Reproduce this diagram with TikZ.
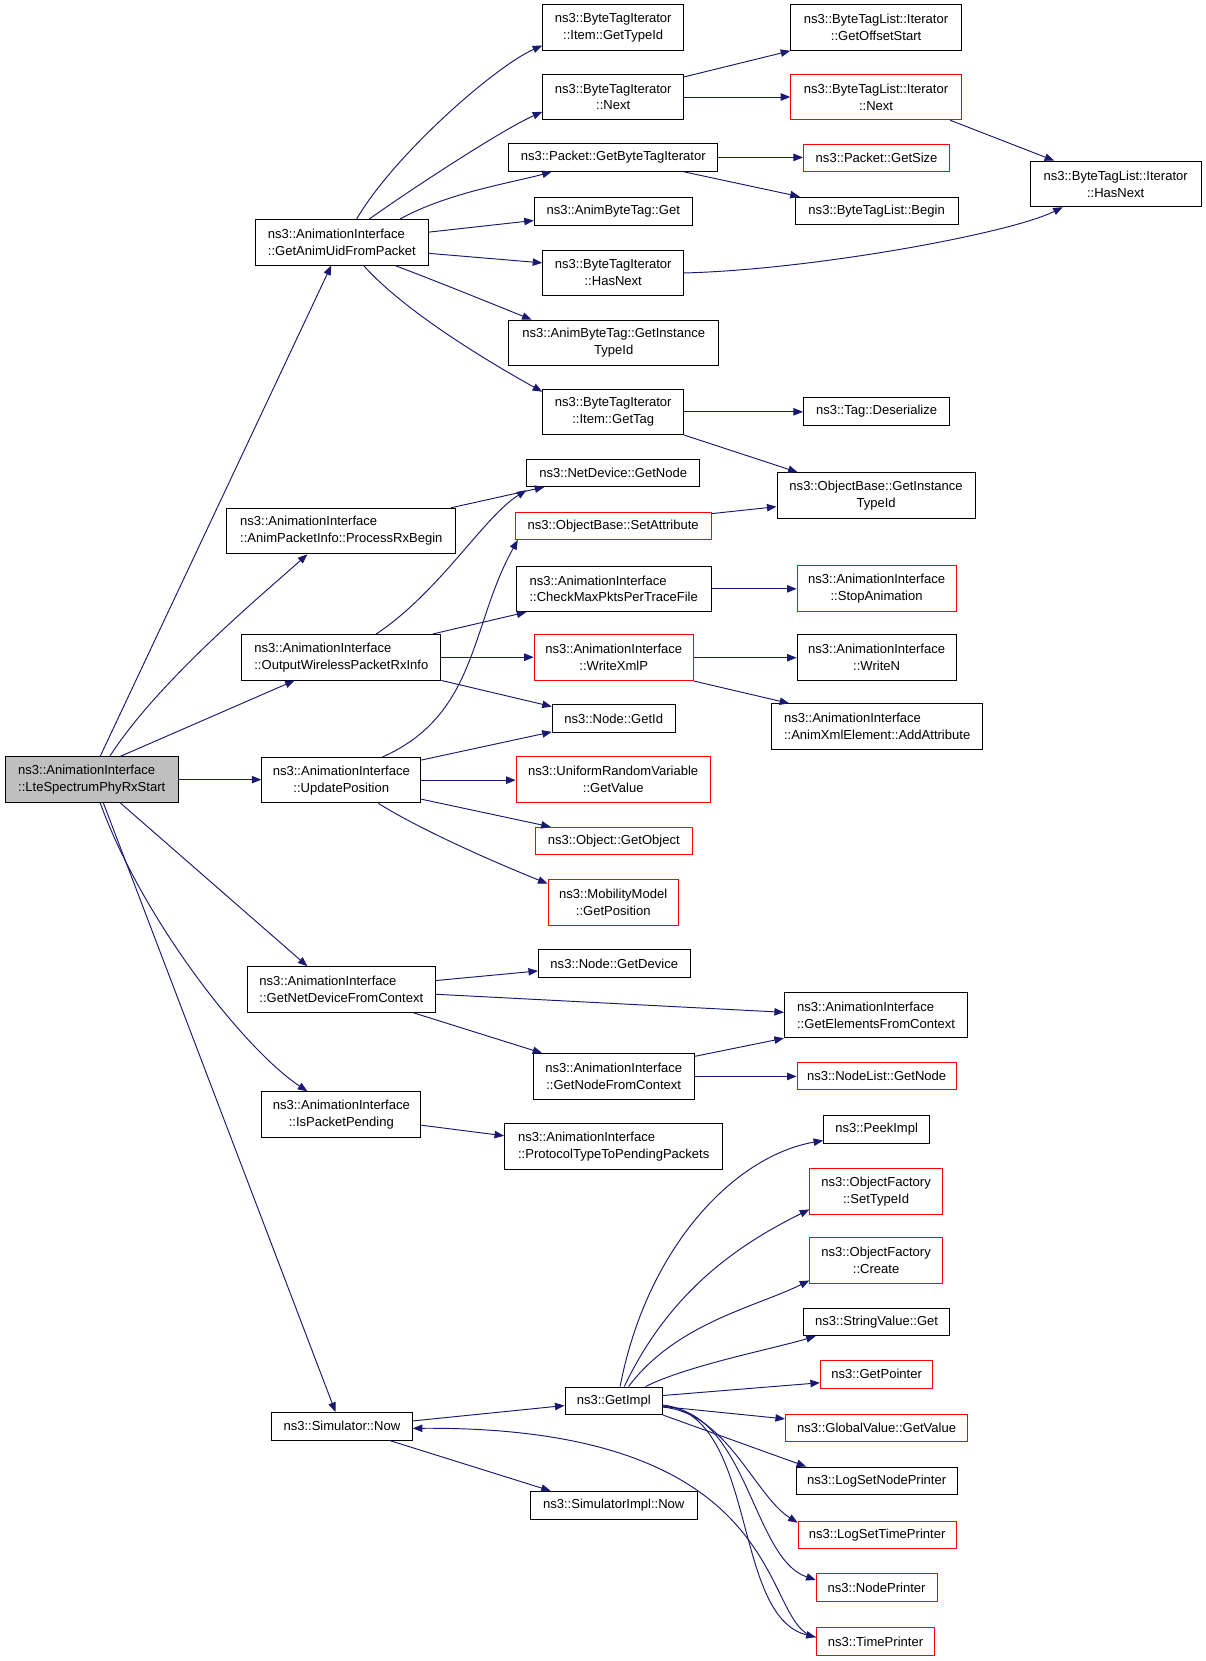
\documentclass[tikz,border=0pt]{standalone}
\usepackage{fontspec}
\setmainfont{Liberation Sans}
\usetikzlibrary{arrows.meta}
\definecolor{edgeblue}{HTML}{191970}
\definecolor{rootgray}{HTML}{BFBFBF}

\begin{document}
\begin{tikzpicture}[x=1pt, y=-1pt,
    fn/.style={rectangle, draw, line width=0.9pt, inner sep=0pt, minimum height=26pt, align=center, font=\fontsize{12.3}{16}\selectfont},
    two/.style={minimum height=43pt},
    flush/.style={align=left},
    wd/.style={minimum width=#1pt},
    missing/.style={draw=red},
    call/.style={draw=edgeblue, line width=0.9pt, -{Triangle[length=9pt,width=7pt]}}
]
\useasboundingbox (0,0) rectangle (1137,1567);

% Funzione radice
\node[fn, two, flush, wd=163, fill=rootgray] (root) at (86.5,735.5) {ns3::AnimationInterface\\::LteSpectrumPhyRxStart};

% Chiamate dirette
\node[fn, two, flush, wd=163] (uid) at (322.5,228.5) {ns3::AnimationInterface\\::GetAnimUidFromPacket};
\node[fn, two, flush, wd=216] (rxbegin) at (322,501) {ns3::AnimationInterface\\::AnimPacketInfo::ProcessRxBegin};
\node[fn, two, flush, wd=188] (output) at (322,620) {ns3::AnimationInterface\\::OutputWirelessPacketRxInfo};
\node[fn, two, wd=150] (updpos) at (322,736) {ns3::AnimationInterface\\::UpdatePosition};
\node[fn, two, flush, wd=178] (netdev) at (322,933.5) {ns3::AnimationInterface\\::GetNetDeviceFromContext};
\node[fn, two, wd=150] (pending) at (322,1051.5) {ns3::AnimationInterface\\::IsPacketPending};
\node[fn, wd=133] (simnow) at (322.5,1345.5) {ns3::Simulator::Now};

% Terzo livello
\node[fn, two, wd=133] (itemtype) at (578.5,26) {ns3::ByteTagIterator\\::Item::GetTypeId};
\node[fn, two, wd=133] (itnext) at (578.5,91.5) {ns3::ByteTagIterator\\::Next};
\node[fn, wd=197] (getbti) at (578.5,148.5) {ns3::Packet::GetByteTagIterator};
\node[fn, wd=149] (abtget) at (578.5,199.5) {ns3::AnimByteTag::Get};
\node[fn, two, wd=133] (ithasnext) at (578.5,257.5) {ns3::ByteTagIterator\\::HasNext};
\node[fn, two, wd=198] (abtinst) at (579,323.5) {ns3::AnimByteTag::GetInstance\\TypeId};
\node[fn, two, wd=133] (itemtag) at (578.5,388.5) {ns3::ByteTagIterator\\::Item::GetTag};
\node[fn, wd=163] (getnode) at (578.5,446) {ns3::NetDevice::GetNode};
\node[fn, missing, wd=185] (setattr) at (578.5,496) {ns3::ObjectBase::SetAttribute};
\node[fn, two, flush, wd=184] (checkmax) at (579,555.5) {ns3::AnimationInterface\\::CheckMaxPktsPerTraceFile};
\node[fn, two, missing, wd=150] (writexml) at (579,620.5) {ns3::AnimationInterface\\::WriteXmlP};
\node[fn, wd=116] (getid) at (579,678) {ns3::Node::GetId};
\node[fn, two, missing, wd=183] (urvget) at (578.5,735.5) {ns3::UniformRandomVariable\\::GetValue};
\node[fn, missing, wd=148] (getobj) at (579,793.5) {ns3::Object::GetObject};
\node[fn, two, missing, wd=123] (getposn) at (578.5,851.5) {ns3::MobilityModel\\::GetPosition};
\node[fn, wd=143] (getdev) at (579.5,909) {ns3::Node::GetDevice};
\node[fn, two, wd=152] (nodectx) at (579,1015.5) {ns3::AnimationInterface\\::GetNodeFromContext};
\node[fn, two, flush, wd=206] (proto) at (579,1081.5) {ns3::AnimationInterface\\::ProtocolTypeToPendingPackets};
\node[fn, wd=92] (getimpl) at (579,1321.5) {ns3::GetImpl};
\node[fn, wd=158] (implnow) at (579,1420) {ns3::SimulatorImpl::Now};

% Quarto livello
\node[fn, two, wd=161] (offstart) at (826.5,26) {ns3::ByteTagList::Iterator\\::GetOffsetStart};
\node[fn, two, missing, wd=161] (listnext) at (826.5,91.5) {ns3::ByteTagList::Iterator\\::Next};
\node[fn, missing, wd=138] (getsize) at (827,149) {ns3::Packet::GetSize};
\node[fn, wd=154] (listbegin) at (827,199) {ns3::ByteTagList::Begin};
\node[fn, wd=138] (deser) at (827,388) {ns3::Tag::Deserialize};
\node[fn, two, wd=187] (obinst) at (826.5,467.5) {ns3::ObjectBase::GetInstance\\TypeId};
\node[fn, two, missing, wd=150] (stopanim) at (827,555) {ns3::AnimationInterface\\::StopAnimation};
\node[fn, two, wd=150] (writen) at (827,620.5) {ns3::AnimationInterface\\::WriteN};
\node[fn, two, flush, wd=199] (addattr) at (827.5,685.5) {ns3::AnimationInterface\\::AnimXmlElement::AddAttribute};
\node[fn, two, flush, wd=173] (elemctx) at (826.5,957.5) {ns3::AnimationInterface\\::GetElementsFromContext};
\node[fn, missing, wd=150] (nlgetnode) at (827,1015) {ns3::NodeList::GetNode};
\node[fn, wd=100] (peek) at (827,1065.5) {ns3::PeekImpl};
\node[fn, two, missing, wd=125] (settype) at (826.5,1124) {ns3::ObjectFactory\\::SetTypeId};
\node[fn, two, missing, wd=125] (create) at (826.5,1189) {ns3::ObjectFactory\\::Create};
\node[fn, wd=138] (strget) at (827,1247) {ns3::StringValue::Get};
\node[fn, missing, wd=106] (getptr) at (827,1296.5) {ns3::GetPointer};
\node[fn, missing, wd=172] (gvget) at (827,1347) {ns3::GlobalValue::GetValue};
\node[fn, wd=152] (lognode) at (827,1397) {ns3::LogSetNodePrinter};
\node[fn, missing, wd=149] (logtime) at (827.5,1448) {ns3::LogSetTimePrinter};
\node[fn, missing, wd=114] (nodepr) at (827,1497.5) {ns3::NodePrinter};
\node[fn, missing, wd=112] (timepr) at (826,1548.5) {ns3::TimePrinter};

\node[fn, two, wd=161] (hasnext) at (1052.5,173.5) {ns3::ByteTagList::Iterator\\::HasNext};

% Frecce dalla radice
\draw[call] ([xshift=8pt]root.north) -- ([xshift=-10pt]uid.south);
\draw[call] ([xshift=17pt]root.north) .. controls +(45,-70) and +(-45,40) .. ([xshift=-32pt]rxbegin.south);
\draw[call] ([xshift=27pt]root.north) -- ([xshift=-44pt]output.south);
\draw[call] (root.east) -- (root.east -| updpos.west);
\draw[call] ([xshift=27pt]root.south) -- ([xshift=-32pt]netdev.north);
\draw[call] ([xshift=8pt]root.south) .. controls +(40,110) and +(-60,-40) .. ([xshift=-32pt]pending.north);
\draw[call] ([xshift=11pt]root.south) -- ([xshift=-6pt]simnow.north);

% GetAnimUidFromPacket
\draw[call] ([xshift=14pt]uid.north) .. controls +(35,-60) and +(-45,20) .. ([yshift=5pt]itemtype.south west);
\draw[call] ([xshift=26pt]uid.north) .. controls +(35,-25) and +(-40,18) .. ([yshift=8pt]itnext.south west);
\draw[call] ([xshift=55pt]uid.north) .. controls +(45,-25) and +(-35,10) .. ([xshift=-58pt]getbti.south);
\draw[call] ([yshift=9.5pt]uid.east) -- ([yshift=-8.5pt]abtget.west);
\draw[call] ([yshift=-10.5pt]uid.east) -- ([yshift=9.5pt]ithasnext.west);
\draw[call] ([xshift=50pt]uid.south) .. controls +(40,15) and +(-30,-12) .. ([xshift=22pt]abtinst.north west);
\draw[call] ([xshift=20.5pt]uid.south) .. controls +(40,45) and +(-45,-25) .. ([yshift=-3pt]itemtag.north west);

\draw[call] ([yshift=-3pt]itnext.north east) -- (offstart.south west);
\draw[call] (itnext.east) -- (listnext.west);
\draw[call] ([xshift=-11pt]listnext.south east) -- ([xshift=23pt]hasnext.north west);
\draw[call] (ithasnext.east) .. controls +(120,-3) and +(-50,25) .. ([xshift=31pt]hasnext.south west);
\draw[call] (getbti.east) -- (getbti.east -| getsize.west);
\draw[call] ([xshift=66pt]getbti.south) -- ([xshift=5pt]listbegin.north west);
\draw[call] (itemtag.east) -- (itemtag.east -| deser.west);
\draw[call] (itemtag.south east) -- ([xshift=20pt]obinst.north west);

% ProcessRxBegin, OutputWirelessPacketRxInfo
\draw[call] ([xshift=-5pt]rxbegin.north east) -- ([xshift=17pt]getnode.south west);
\draw[call] ([xshift=33pt]output.north) .. controls +(60,-40) and +(-40,25) .. ([yshift=-3pt]getnode.south west);
\draw[call] ([yshift=-2pt]setattr.north east) -- ([yshift=-10.5pt]obinst.west);
\draw[call] ([xshift=-8pt]output.north east) -- ([xshift=10pt]checkmax.south west);
\draw[call] (output.east) -- (output.east -| writexml.west);
\draw[call] (output.south east) -- ([yshift=-2pt]getid.north west);
\draw[call] (checkmax.east) -- (checkmax.east -| stopanim.west);
\draw[call] (writexml.east) -- (writen.west);
\draw[call] (writexml.south east) -- ([xshift=17pt]addattr.north west);

% UpdatePosition
\draw[call] ([xshift=39pt]updpos.north) .. controls +(90,-40) and +(-45,80) .. ([xshift=3pt]setattr.south west);
\draw[call] ([yshift=-3pt]updpos.north east) -- ([yshift=1pt]getid.south west);
\draw[call] (updpos.east) -- (updpos.east -| urvget.west);
\draw[call] ([yshift=4pt]updpos.south east) -- ([xshift=15pt]getobj.north west);
\draw[call] ([xshift=35pt]updpos.south) .. controls +(40,25) and +(-50,-20) .. ([yshift=-4pt]getposn.north west);

% GetNetDeviceFromContext, IsPacketPending
\draw[call] ([yshift=8.5pt]netdev.east) -- ([yshift=-7pt]getdev.west);
\draw[call] ([yshift=-4.5pt]netdev.east) -- ([yshift=2.5pt]elemctx.west);
\draw[call] ([xshift=68pt]netdev.south) -- ([xshift=9pt]nodectx.north west);
\draw[call] ([yshift=-3pt]nodectx.north east) -- (elemctx.south west);
\draw[call] (nodectx.east) -- (nodectx.east -| nlgetnode.west);
\draw[call] ([yshift=-10pt]pending.east) -- ([yshift=10pt]proto.west);

% Simulator::Now
\draw[call] ([yshift=5pt]simnow.east) -- ([yshift=-4.5pt]getimpl.west);
\draw[call] ([xshift=45pt]simnow.south) -- ([xshift=20pt]implnow.north west);
\draw[call] ([yshift=4pt]timepr.west) .. controls (715,1535) and (755,1345) .. ([yshift=-2pt]simnow.east);

% GetImpl
\draw[call] ([xshift=6pt]getimpl.north) .. controls +(25,-130) and +(-85,15) .. ([yshift=3pt]peek.south west);
\draw[call] ([xshift=10pt]getimpl.north) .. controls +(45,-95) and +(-60,30) .. ([yshift=5pt]settype.south west);
\draw[call] ([xshift=14pt]getimpl.north) .. controls +(45,-60) and +(-50,25) .. ([yshift=3pt]create.south west);
\draw[call] ([xshift=30pt]getimpl.north) .. controls +(40,-20) and +(-40,12) .. ([xshift=12pt]strget.south west);
\draw[call] ([yshift=5pt]getimpl.east) -- ([yshift=-8pt]getptr.west);
\draw[call] ([yshift=-5.5pt]getimpl.east) -- ([yshift=-5pt]gvget.north west);
\draw[call] (getimpl.south east) -- ([xshift=10pt]lognode.north west);
\draw[call] ([yshift=-6pt]getimpl.east) .. controls +(60,5) and +(-40,-25) .. ([yshift=-2pt]logtime.north west);
\draw[call] ([yshift=-5pt]getimpl.east) .. controls +(80,5) and +(-60,-20) .. ([yshift=7pt]nodepr.west);
\draw[call] ([yshift=-4pt]getimpl.east) .. controls +(90,10) and +(-80,-20) .. ([yshift=4pt]timepr.west);

\end{tikzpicture}
\end{document}
